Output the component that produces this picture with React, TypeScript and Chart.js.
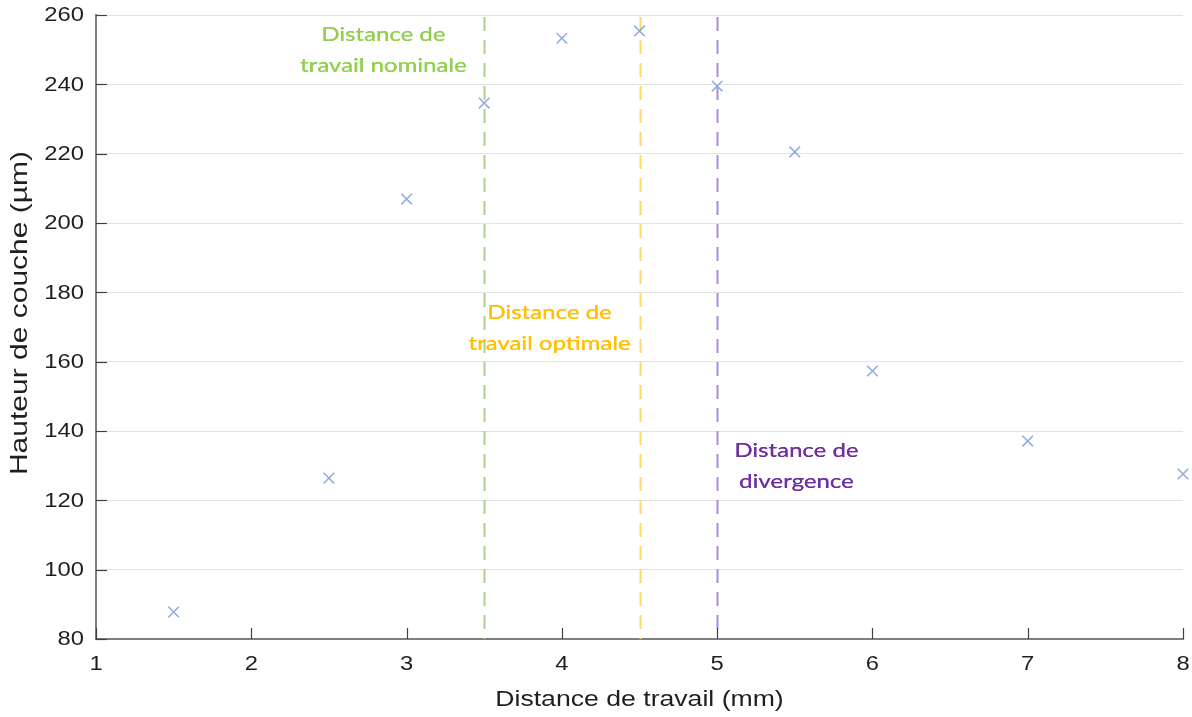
import React, { useEffect, useRef } from "react";
import { Chart, registerables } from "chart.js";

Chart.register(...registerables);

// ---- Data ----
const distances = [1.5, 2.5, 3, 3.5, 4, 4.5, 5, 5.5, 6, 7, 8];
const heights = [87.8, 126.4, 206.9, 234.6, 253.3, 255.4, 239.5, 220.5, 157.3, 137.1, 127.6];
const xTicks = [1, 2, 3, 4, 5, 6, 7, 8];
const yTicks = [80, 100, 120, 140, 160, 180, 200, 220, 240, 260];

const guideX = [3.5, 4.5, 5];
const guideLineColors = ["#A9D18E", "#FFD966", "#AE8BD6"];
const guideTextColors = ["#92D050", "#FFC000", "#7030A0"];
const guideLabels = [
  ["Distance de", "travail nominale"],
  ["Distance de", "travail optimale"],
  ["Distance de", "divergence"],
];
const guideLabelX = [2.85, 3.92, 5.51];
const guideLabelY = [249.9, 169.8, 130];

const xTitle = "Distance de travail (mm)";
const yTitle = "Hauteur de couche (µm)";

const SANS = "'Liberation Sans', Arial, sans-serif";
const LABEL_FONT = "Lato, 'Open Sans', sans-serif";

function drawStretched(
  ctx: CanvasRenderingContext2D,
  text: string,
  x: number,
  y: number,
  font: string,
  color: string,
  align: CanvasTextAlign,
  stretch: number,
  rotate = 0
) {
  ctx.save();
  ctx.translate(x, y);
  if (rotate) ctx.rotate(rotate);
  ctx.scale(stretch, 1);
  ctx.font = font;
  ctx.fillStyle = color;
  ctx.textAlign = align;
  ctx.textBaseline = "middle";
  ctx.fillText(text, 0, 0);
  ctx.restore();
}

const decorPlugin = {
  id: "decor",
  beforeDatasetsDraw(chart: any) {
    const { ctx, chartArea, scales } = chart;
    const xs = scales.x;
    const ys = scales.y;
    guideX.forEach((gx, i) => {
      const px = Math.round(xs.getPixelForValue(gx)) + 0.5;
      ctx.save();
      ctx.strokeStyle = guideLineColors[i];
      ctx.lineWidth = 2;
      ctx.setLineDash([14, 9]);
      ctx.beginPath();
      ctx.moveTo(px, chartArea.top + 2);
      ctx.lineTo(px, chartArea.bottom);
      ctx.stroke();
      ctx.restore();
    });
    guideLabels.forEach((lines, i) => {
      const cx = xs.getPixelForValue(guideLabelX[i]);
      const cy = ys.getPixelForValue(guideLabelY[i]);
      const lh = 31;
      lines.forEach((t, j) => {
        const y = cy + (j - (lines.length - 1) / 2) * lh;
        drawStretched(ctx, t, cx, y, `20px ${LABEL_FONT}`, guideTextColors[i], "center", 1.2);
        drawStretched(ctx, t, cx + 0.3, y, `20px ${LABEL_FONT}`, guideTextColors[i], "center", 1.2);
      });
    });
  },
  afterDraw(chart: any) {
    const { ctx, chartArea, scales } = chart;
    const xs = scales.x;
    const ys = scales.y;
    ctx.save();
    ctx.strokeStyle = "#404040";
    ctx.lineWidth = 1.2;
    yTicks.forEach((v) => {
      const py = Math.round(ys.getPixelForValue(v)) + 0.5;
      ctx.beginPath();
      ctx.moveTo(chartArea.left, py);
      ctx.lineTo(chartArea.left + 11, py);
      ctx.stroke();
    });
    xTicks.forEach((v) => {
      const px = Math.round(xs.getPixelForValue(v)) + 0.5;
      ctx.beginPath();
      ctx.moveTo(px, chartArea.bottom);
      ctx.lineTo(px, chartArea.bottom - 11);
      ctx.stroke();
    });
    ctx.restore();
    yTicks.forEach((v) => {
      const py = ys.getPixelForValue(v);
      drawStretched(ctx, String(v), chartArea.left - 12, py + 1, `19.5px ${SANS}`, "#1f1f1f", "right", 1.22);
    });
    xTicks.forEach((v) => {
      const px = xs.getPixelForValue(v);
      drawStretched(ctx, String(v), px, chartArea.bottom + 26, `19.5px ${SANS}`, "#1f1f1f", "center", 1.22);
    });
    drawStretched(ctx, xTitle, (chartArea.left + chartArea.right) / 2, chartArea.bottom + 61, `22px ${SANS}`, "#1f1f1f", "center", 1.21);
    drawStretched(ctx, yTitle, 20, 313, `24px ${SANS}`, "#1f1f1f", "center", 1.25, -Math.PI / 2);
  },
};

export default function App() {
  const canvasRef = useRef<HTMLCanvasElement | null>(null);

  useEffect(() => {
    document.body.style.margin = "0";
    const canvas = canvasRef.current;
    if (!canvas) return;
    const chart = new Chart(canvas, {
      type: "scatter",
      data: {
        datasets: [
          {
            data: distances.map((x, i) => ({ x, y: heights[i] })),
            pointStyle: "crossRot",
            pointRadius: 7.5,
            pointBorderWidth: 1.5,
            borderColor: "#8FAADC",
            backgroundColor: "#8FAADC",
            clip: false,
          },
        ],
      },
      options: {
        animation: false,
        responsive: true,
        maintainAspectRatio: false,
        layout: { padding: { top: 15, right: 4, left: 0, bottom: 0 } },
        plugins: {
          legend: { display: false },
          tooltip: { enabled: false },
        },
        scales: {
          x: {
            type: "linear",
            min: 1,
            max: 8,
            ticks: { display: false, stepSize: 1 },
            grid: { display: false, drawTicks: false },
            border: { display: true, color: "#7f7f7f", width: 2 },
            afterFit: (s: any) => {
              s.height = 78;
              s.paddingLeft = 0;
              s.paddingRight = 0;
            },
          },
          y: {
            type: "linear",
            min: 80,
            max: 260,
            ticks: { display: false, stepSize: 20 },
            grid: { color: "#e2e2e2", lineWidth: 1, drawTicks: false },
            border: { display: true, color: "#7f7f7f", width: 2 },
            afterFit: (s: any) => {
              s.width = 96;
              s.paddingTop = 0;
              s.paddingBottom = 0;
            },
          },
        },
      },
      plugins: [decorPlugin],
    });
    return () => chart.destroy();
  }, []);

  return (
    <div style={{ position: "fixed", left: 0, top: 0, width: 1192, height: 717, background: "#fff" }}>
      <canvas ref={canvasRef} />
    </div>
  );
}
